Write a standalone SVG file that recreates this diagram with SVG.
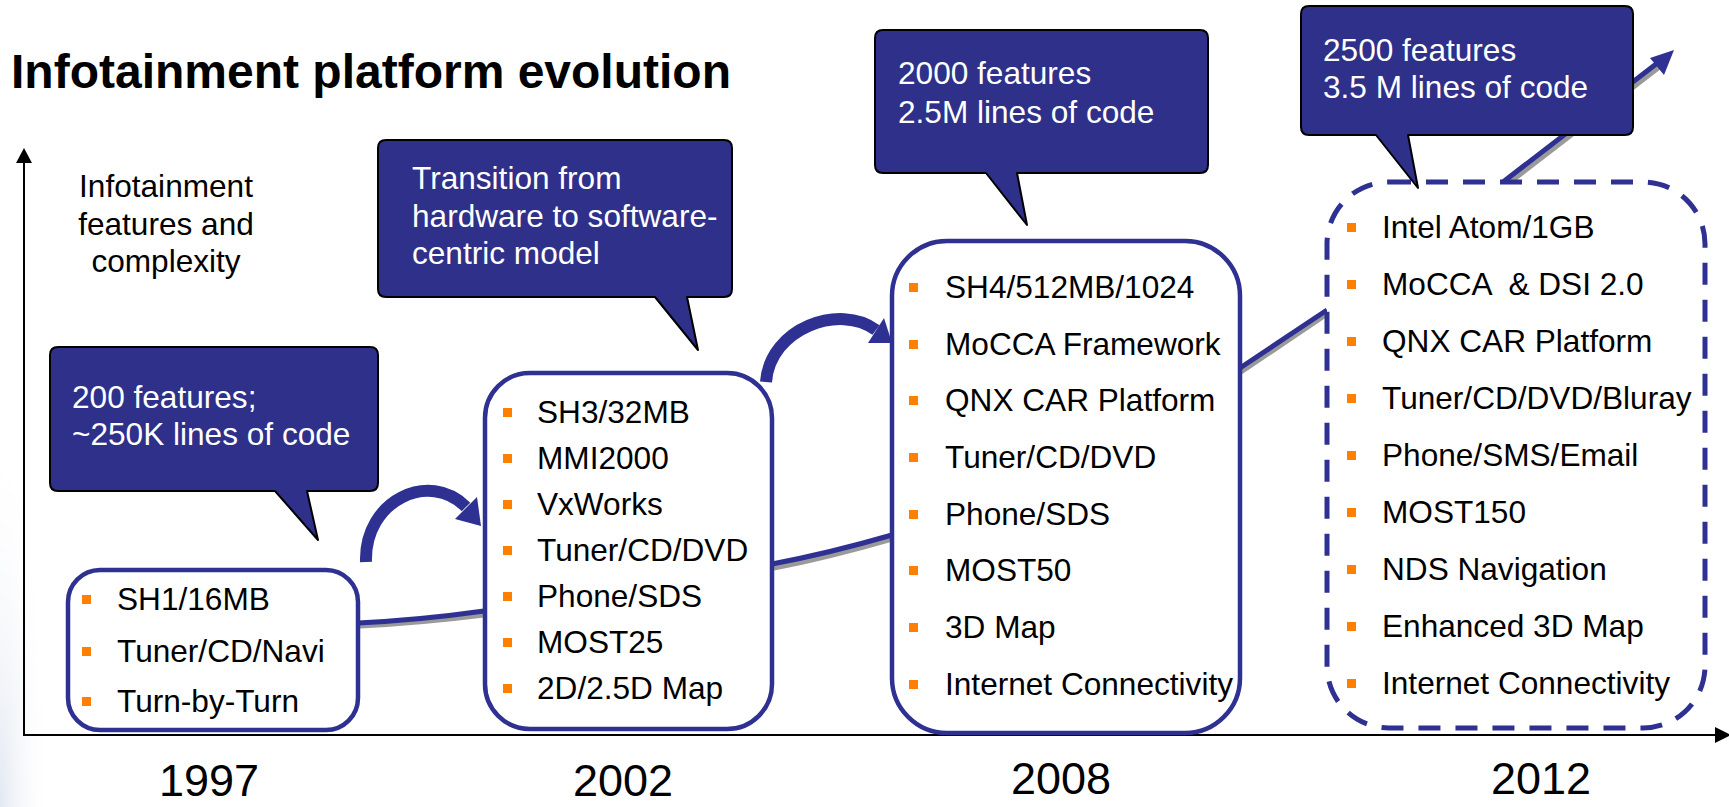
<svg xmlns="http://www.w3.org/2000/svg" width="1729" height="807" viewBox="0 0 1729 807">
  <defs>
    <style>
      .t{font-family:"Liberation Sans",Arial,sans-serif;font-size:31.6px;fill:#000}
      .w{font-family:"Liberation Sans",Arial,sans-serif;font-size:31.6px;fill:#fff}
      .yr{font-family:"Liberation Sans",Arial,sans-serif;font-size:45px;fill:#000;text-anchor:middle}
      .box{fill:#fff;stroke:#2E3192;stroke-width:4.5}
      .dbox{fill:#fff;stroke:#2E3192;stroke-width:5;stroke-dasharray:22 15}
      .call{fill:#2E3089;stroke:#000;stroke-width:2;stroke-linejoin:round}
      .b{fill:#FF8000}
      .con{fill:none;stroke:#2E3192;stroke-width:5}
      .sh{fill:none;stroke:#9a9a9a;stroke-width:5}
      .arc{fill:none;stroke:#2E3192;stroke-width:12}
      .axis{stroke:#000;stroke-width:2;fill:none}
    </style>
    <radialGradient id="bg" cx="0" cy="1" r="1" gradientUnits="objectBoundingBox">
      <stop offset="0" stop-color="#e3e8f1"/>
      <stop offset="1" stop-color="#ffffff" stop-opacity="0"/>
    </radialGradient>
  </defs>
  <rect width="1729" height="807" fill="#fff"/>
  <rect x="0" y="420" width="50" height="387" fill="url(#bg)"/>

  <text x="11" y="88" font-family="Liberation Sans, Arial, sans-serif" font-size="48" font-weight="bold">Infotainment platform evolution</text>

  <g id="axes">
    <line class="axis" x1="24" y1="735" x2="24" y2="160"/>
    <polygon points="24,148 16,163 32,163" fill="#000"/>
    <line class="axis" x1="23" y1="735" x2="1716" y2="735"/>
    <polygon points="1731,735 1715,727 1715,743" fill="#000"/>
  </g>

  <g id="y-label">
    <text class="t" text-anchor="middle" x="166" y="197">Infotainment</text>
    <text class="t" text-anchor="middle" x="166" y="235">features and</text>
    <text class="t" text-anchor="middle" x="166" y="272">complexity</text>
  </g>

  <g id="connectors">
    <path class="sh" d="M 360 626 Q 420 623 484 615"/>
    <path class="con" d="M 358 623 Q 420 620 484 611"/>
    <path class="sh" d="M 774 568 Q 830 557 892 539"/>
    <path class="con" d="M 772 564 Q 830 553 892 535"/>
    <path class="sh" d="M 1241 372 L 1327 314"/>
    <path class="con" d="M 1240 368 L 1327 310"/>
    <path class="sh" d="M 1505 186 L 1662 65"/>
    <path class="con" d="M 1503 182 L 1660 61"/>
    <polygon points="1674,50 1650,58 1664,75" fill="#2E3192"/>
    <path class="arc" d="M 366 562 C 364 500, 430 470, 466 507"/>
    <polygon points="481,526 455,519 477,497" fill="#2E3192"/>
    <path class="arc" d="M 766 382 C 770 328, 840 303, 876 330"/>
    <polygon points="892,343 868,343 884,318" fill="#2E3192"/>
  </g>

  <g id="box-1997">
    <rect class="box" x="68" y="570" width="290" height="160" rx="32"/>
    <rect class="b" x="82" y="595" width="9" height="9"/>
    <text class="t" x="117" y="610">SH1/16MB</text>
    <rect class="b" x="82" y="647" width="9" height="9"/>
    <text class="t" x="117" y="662">Tuner/CD/Navi</text>
    <rect class="b" x="82" y="697" width="9" height="9"/>
    <text class="t" x="117" y="712">Turn-by-Turn</text>
  </g>

  <g id="box-2002">
    <rect class="box" x="485" y="373" width="287" height="356" rx="45"/>
    <rect class="b" x="503" y="408" width="9" height="9"/>
    <text class="t" x="537" y="423">SH3/32MB</text>
    <rect class="b" x="503" y="454" width="9" height="9"/>
    <text class="t" x="537" y="469">MMI2000</text>
    <rect class="b" x="503" y="500" width="9" height="9"/>
    <text class="t" x="537" y="515">VxWorks</text>
    <rect class="b" x="503" y="546" width="9" height="9"/>
    <text class="t" x="537" y="561">Tuner/CD/DVD</text>
    <rect class="b" x="503" y="592" width="9" height="9"/>
    <text class="t" x="537" y="607">Phone/SDS</text>
    <rect class="b" x="503" y="638" width="9" height="9"/>
    <text class="t" x="537" y="653">MOST25</text>
    <rect class="b" x="503" y="684" width="9" height="9"/>
    <text class="t" x="537" y="699">2D/2.5D Map</text>
  </g>

  <g id="box-2008">
    <rect class="box" x="892" y="241" width="348" height="492" rx="55"/>
    <rect class="b" x="909" y="283" width="9" height="9"/>
    <text class="t" x="945" y="298">SH4/512MB/1024</text>
    <rect class="b" x="909" y="340" width="9" height="9"/>
    <text class="t" x="945" y="355">MoCCA Framework</text>
    <rect class="b" x="909" y="396" width="9" height="9"/>
    <text class="t" x="945" y="411">QNX CAR Platform</text>
    <rect class="b" x="909" y="453" width="9" height="9"/>
    <text class="t" x="945" y="468">Tuner/CD/DVD</text>
    <rect class="b" x="909" y="510" width="9" height="9"/>
    <text class="t" x="945" y="525">Phone/SDS</text>
    <rect class="b" x="909" y="566" width="9" height="9"/>
    <text class="t" x="945" y="581">MOST50</text>
    <rect class="b" x="909" y="623" width="9" height="9"/>
    <text class="t" x="945" y="638">3D Map</text>
    <rect class="b" x="909" y="680" width="9" height="9"/>
    <text class="t" x="945" y="695">Internet Connectivity</text>
  </g>

  <g id="box-2012">
    <rect class="dbox" x="1327" y="182" width="378" height="546" rx="62"/>
    <rect class="b" x="1347" y="223" width="9" height="9"/>
    <text class="t" x="1382" y="238">Intel Atom/1GB</text>
    <rect class="b" x="1347" y="280" width="9" height="9"/>
    <text class="t" x="1382" y="295" xml:space="preserve">MoCCA  &amp; DSI 2.0</text>
    <rect class="b" x="1347" y="337" width="9" height="9"/>
    <text class="t" x="1382" y="352">QNX CAR Platform</text>
    <rect class="b" x="1347" y="394" width="9" height="9"/>
    <text class="t" x="1382" y="409">Tuner/CD/DVD/Bluray</text>
    <rect class="b" x="1347" y="451" width="9" height="9"/>
    <text class="t" x="1382" y="466">Phone/SMS/Email</text>
    <rect class="b" x="1347" y="508" width="9" height="9"/>
    <text class="t" x="1382" y="523">MOST150</text>
    <rect class="b" x="1347" y="565" width="9" height="9"/>
    <text class="t" x="1382" y="580">NDS Navigation</text>
    <rect class="b" x="1347" y="622" width="9" height="9"/>
    <text class="t" x="1382" y="637">Enhanced 3D Map</text>
    <rect class="b" x="1347" y="679" width="9" height="9"/>
    <text class="t" x="1382" y="694">Internet Connectivity</text>
  </g>

  <g id="callout-1997">
    <path class="call" d="M 58 347 H 370 Q 378 347 378 355 V 483 Q 378 491 370 491 H 307 L 318 540 L 275 491 H 58 Q 50 491 50 483 V 355 Q 50 347 58 347 Z"/>
    <text class="w" x="72" y="408">200 features;</text>
    <text class="w" x="72" y="445">~250K lines of code</text>
  </g>

  <g id="callout-2002">
    <path class="call" d="M 386 140 H 724 Q 732 140 732 148 V 289 Q 732 297 724 297 H 687 L 698 350 L 655 297 H 386 Q 378 297 378 289 V 148 Q 378 140 386 140 Z"/>
    <text class="w" x="412" y="189">Transition from</text>
    <text class="w" x="412" y="227">hardware to software-</text>
    <text class="w" x="412" y="264">centric model</text>
  </g>

  <g id="callout-2008">
    <path class="call" d="M 883 30 H 1200 Q 1208 30 1208 38 V 165 Q 1208 173 1200 173 H 1017 L 1027 225 L 986 173 H 883 Q 875 173 875 165 V 38 Q 875 30 883 30 Z"/>
    <text class="w" x="898" y="84">2000 features</text>
    <text class="w" x="898" y="123">2.5M lines of code</text>
  </g>

  <g id="callout-2012">
    <path class="call" d="M 1309 6 H 1625 Q 1633 6 1633 14 V 127 Q 1633 135 1625 135 H 1408 L 1418 188 L 1376 135 H 1309 Q 1301 135 1301 127 V 14 Q 1301 6 1309 6 Z"/>
    <text class="w" x="1323" y="61">2500 features</text>
    <text class="w" x="1323" y="98">3.5 M lines of code</text>
  </g>

  <g id="years">
    <text class="yr" x="209" y="796">1997</text>
    <text class="yr" x="623" y="796">2002</text>
    <text class="yr" x="1061" y="794">2008</text>
    <text class="yr" x="1541" y="794">2012</text>
  </g>
</svg>
